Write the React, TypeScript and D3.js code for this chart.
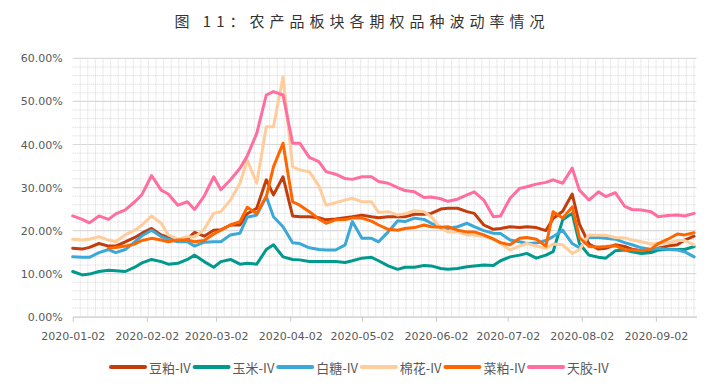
import { useEffect, useRef } from "react"
import * as d3 from "d3"

// sample dates (every ~3.7 days)
const dates = [
  "2020-01-02", "2020-01-06", "2020-01-09", "2020-01-13", "2020-01-17", "2020-01-20", "2020-01-24", "2020-01-28", "2020-01-31", "2020-02-04",
  "2020-02-08", "2020-02-11", "2020-02-15", "2020-02-19", "2020-02-22", "2020-02-26", "2020-03-01", "2020-03-04", "2020-03-08", "2020-03-12",
  "2020-03-15", "2020-03-19", "2020-03-23", "2020-03-26", "2020-03-30", "2020-04-03", "2020-04-06", "2020-04-10", "2020-04-14", "2020-04-17",
  "2020-04-21", "2020-04-25", "2020-04-28", "2020-05-02", "2020-05-06", "2020-05-09", "2020-05-13", "2020-05-17", "2020-05-20", "2020-05-24",
  "2020-05-28", "2020-05-31", "2020-06-04", "2020-06-07", "2020-06-11", "2020-06-15", "2020-06-18", "2020-06-22", "2020-06-26", "2020-06-29",
  "2020-07-03", "2020-07-07", "2020-07-10", "2020-07-14", "2020-07-18", "2020-07-21", "2020-07-25", "2020-07-29", "2020-08-01", "2020-08-05",
  "2020-08-09", "2020-08-12", "2020-08-16", "2020-08-20", "2020-08-23", "2020-08-27", "2020-08-31", "2020-09-03", "2020-09-07", "2020-09-11",
  "2020-09-14", "2020-09-18",
]

// implied vol, %
const soybeanMeal = [
  15.9, 15.7, 16.1, 17.0, 16.4, 16.4, 17.4, 18.4, 19.4, 20.5,
  19.0, 18.4, 17.8, 18.1, 19.6, 18.7, 20.1, 20.2, 21.3, 21.3,
  23.9, 25.2, 31.8, 28.3, 32.5, 23.4, 23.2, 23.2, 23.0, 22.5,
  22.7, 23.0, 23.2, 23.6, 23.2, 23.0, 23.2, 23.2, 23.2, 23.8,
  23.8, 24.0, 25.0, 25.2, 25.2, 24.4, 24.0, 21.3, 20.3, 20.5,
  20.9, 20.7, 20.9, 20.7, 20.0, 22.8, 24.5, 28.5, 21.5, 16.9,
  15.7, 15.9, 16.7, 16.3, 15.7, 15.3, 14.9, 15.9, 16.4, 16.7,
  17.8, 18.7,
]
const corn = [
  10.5, 9.7, 9.9, 10.5, 10.8, 10.7, 10.5, 11.5, 12.5, 13.3,
  12.8, 12.2, 12.4, 13.3, 14.3, 12.8, 11.5, 12.8, 13.3, 12.2,
  12.4, 12.2, 15.6, 16.7, 13.9, 13.3, 13.2, 12.8, 12.8, 12.8,
  12.8, 12.6, 13.0, 13.6, 13.8, 13.0, 11.8, 11.0, 11.5, 11.5,
  11.9, 11.8, 11.2, 11.0, 11.2, 11.6, 11.8, 12.0, 11.9, 13.0,
  13.9, 14.3, 14.7, 13.6, 14.3, 15.1, 22.5, 24.0, 17.0, 14.3,
  13.8, 13.6, 15.3, 15.5, 15.1, 14.7, 14.9, 15.5, 15.6, 15.6,
  15.6, 16.3,
]
const sugar = [
  13.9, 13.8, 13.8, 14.9, 15.6, 14.9, 15.6, 17.4, 18.8, 20.1,
  18.6, 18.0, 17.4, 17.4, 16.4, 17.3, 17.4, 17.4, 19.0, 19.4,
  23.1, 23.6, 27.9, 23.2, 20.9, 17.2, 17.0, 16.0, 15.6, 15.5,
  15.5, 16.7, 22.1, 18.2, 18.2, 17.4, 19.7, 22.3, 22.1, 22.9,
  22.6, 21.7, 20.8, 20.5, 20.9, 21.7, 20.9, 20.0, 19.4, 19.3,
  17.8, 17.4, 17.0, 17.1, 17.7, 18.6, 20.1, 17.0, 16.0, 18.4,
  18.4, 18.2, 18.0, 17.2, 16.7, 16.0, 15.6, 15.9, 15.6, 15.5,
  15.1, 13.9,
]
const cotton = [
  18.0, 17.8, 18.0, 18.6, 17.8, 17.4, 19.0, 20.1, 21.3, 23.4,
  21.7, 19.0, 18.0, 18.6, 18.5, 20.3, 24.0, 24.4, 27.1, 31.0,
  36.4, 31.0, 44.1, 44.1, 55.7, 34.8, 34.1, 33.7, 30.4, 25.9,
  26.5, 27.1, 27.5, 26.7, 26.7, 24.2, 24.4, 23.6, 23.9, 24.6,
  24.4, 23.2, 20.5, 19.7, 19.7, 19.0, 19.0, 18.6, 18.2, 17.0,
  15.5, 16.4, 17.0, 16.4, 15.9, 16.9, 16.7, 14.7, 15.5, 19.0,
  18.9, 18.9, 18.4, 18.3, 17.8, 17.4, 16.9, 17.0, 17.1, 17.7,
  17.7, 16.7,
]
const rapeseedMeal = [
  null, null, null, null, 15.9, 16.1, 16.4, 16.9, 17.7, 18.2,
  17.8, 17.4, 17.8, 17.8, 17.4, 17.7, 19.2, 20.1, 21.3, 22.1,
  25.4, 24.0, 27.9, 34.8, 40.3, 26.7, 25.9, 24.4, 22.7, 21.7,
  22.5, 22.6, 22.9, 22.9, 22.2, 21.3, 20.3, 20.1, 20.5, 20.7,
  21.3, 20.9, 20.8, 20.9, 20.1, 19.7, 19.7, 19.0, 18.0, 17.2,
  16.7, 18.2, 18.4, 18.0, 16.4, 24.4, 22.9, 25.5, 18.4, 16.3,
  16.2, 16.3, 16.5, 15.5, 15.5, 15.3, 15.7, 17.0, 18.0, 19.2,
  19.0, 19.5,
]
const rubber = [
  23.4, 22.6, 21.8, 23.4, 22.6, 23.9, 24.8, 26.7, 28.4, 32.8,
  29.4, 28.5, 25.9, 26.7, 24.9, 28.0, 32.5, 29.5, 31.8, 34.5,
  37.3, 42.6, 51.5, 52.3, 51.5, 40.3, 40.3, 37.0, 36.0, 33.7,
  33.1, 32.1, 31.9, 32.5, 32.5, 31.4, 31.0, 30.0, 29.3, 29.0,
  27.7, 27.8, 27.4, 26.8, 27.3, 28.3, 29.0, 27.1, 23.2, 23.4,
  27.5, 29.8, 30.2, 30.8, 31.2, 31.8, 31.0, 34.5, 29.4, 27.1,
  29.0, 27.9, 28.8, 25.6, 24.9, 24.8, 24.4, 23.2, 23.5, 23.6,
  23.4, 24.0,
]

const seriesNames = ["豆粕-IV", "玉米-IV", "白糖-IV", "棉花-IV", "菜粕-IV", "天胶-IV"]
const seriesColors = ["#C33C0C", "#00998C", "#3AA8D8", "#FFCC9C", "#FF6600", "#FF6E9E"]
const seriesValues = [soybeanMeal, corn, sugar, cotton, rapeseedMeal, rubber]

const xTickLabels = [
  "2020-01-02", "2020-02-02", "2020-03-02", "2020-04-02", "2020-05-02",
  "2020-06-02", "2020-07-02", "2020-08-02", "2020-09-02",
]
const yTicks = [0, 10, 20, 30, 40, 50, 60]

const title = "图 11：农产品板块各期权品种波动率情况"

export default function App() {
  const svgRef = useRef<SVGSVGElement>(null)
  const width = 726
  const height = 388

  useEffect(() => {
    if (!svgRef.current) return
    const svg = d3.select(svgRef.current)
    svg.selectAll("*").remove()

    const margin = { top: 58.4, right: 29.5, bottom: 71.3, left: 72.7 }
    const plotRight = width - margin.right
    const plotBottom = height - margin.bottom
    const labelFont = "'DejaVu Sans', Verdana, sans-serif"
    const cjkFont = "'Noto Sans CJK SC', 'Noto Sans', sans-serif"

    const parse = d3.utcParse("%Y-%m-%d")
    const start = parse("2020-01-02") as Date
    const end = parse("2020-09-19") as Date

    const xScale = d3.scaleUtc().domain([start, end]).range([margin.left, plotRight])
    const yScale = d3.scaleLinear().domain([0, 60]).range([plotBottom, margin.top])

    // title
    svg.append("text")
      .attr("x", 362)
      .attr("y", 27)
      .attr("text-anchor", "middle")
      .attr("font-family", cjkFont)
      .attr("font-size", 15)
      .attr("letter-spacing", 5)
      .attr("fill", "#333")
      .text(title)

    // minor gridlines (dotted)
    const grid = svg.append("g")
    const minorX = d3.range(+start + 3.17 * 864e5, +end, 3.17 * 864e5)
    grid.selectAll("line.vx").data(minorX).enter()
      .append("line")
      .attr("x1", d => xScale(new Date(d)))
      .attr("x2", d => xScale(new Date(d)))
      .attr("y1", margin.top)
      .attr("y2", plotBottom)
      .attr("stroke", "#d6d6d6")
      .attr("stroke-dasharray", "1 1")
    const minorY = d3.range(2, 60, 2).filter(v => v % 10 !== 0)
    grid.selectAll("line.hy").data(minorY).enter()
      .append("line")
      .attr("x1", margin.left)
      .attr("x2", plotRight)
      .attr("y1", d => yScale(d))
      .attr("y2", d => yScale(d))
      .attr("stroke", "#d6d6d6")
      .attr("stroke-dasharray", "1 1")

    // major horizontal gridlines
    grid.selectAll("line.major").data(yTicks.filter(v => v > 0)).enter()
      .append("line")
      .attr("x1", margin.left)
      .attr("x2", plotRight)
      .attr("y1", d => yScale(d))
      .attr("y2", d => yScale(d))
      .attr("stroke", "#d9d9d9")
      .attr("stroke-width", 1.2)

    // x axis
    const xAxis = svg.append("g")
      .attr("transform", `translate(0, ${plotBottom})`)
      .call(d3.axisBottom(xScale)
        .tickValues(xTickLabels.map(s => parse(s) as Date))
        .tickFormat(d => d3.utcFormat("%Y-%m-%d")(d as Date))
        .tickSize(5)
        .tickSizeOuter(0)
        .tickPadding(11))
    xAxis.select(".domain").attr("stroke", "#c8c8c8").attr("stroke-width", 1.2)
    xAxis.selectAll(".tick line").attr("stroke", "#c8c8c8")
    xAxis.selectAll("text")
      .attr("font-family", labelFont)
      .attr("font-size", 11)
      .attr("fill", "#595959")

    // y axis
    const yAxis = svg.append("g")
      .attr("transform", `translate(${margin.left}, 0)`)
      .call(d3.axisLeft(yScale)
        .tickValues(yTicks)
        .tickFormat(d => `${(d as number).toFixed(2)}%`)
        .tickSize(0)
        .tickPadding(10))
    yAxis.select(".domain").remove()
    yAxis.selectAll("text")
      .attr("font-family", labelFont)
      .attr("font-size", 11)
      .attr("fill", "#595959")

    // series lines
    const line = d3.line<number | null>()
      .defined(v => v != null)
      .x((_, i) => xScale(parse(dates[i]) as Date))
      .y(v => yScale(v as number))

    seriesValues.forEach((values, i) => {
      svg.append("path")
        .datum(values)
        .attr("d", line)
        .attr("fill", "none")
        .attr("stroke", seriesColors[i])
        .attr("stroke-width", 3)
        .attr("stroke-linejoin", "round")
        .attr("stroke-linecap", "round")
    })

    // legend
    const legendY = 367
    const legend = svg.append("g")
    seriesNames.forEach((name, i) => {
      const x0 = 111 + 83.6 * i
      legend.append("line")
        .attr("x1", x0)
        .attr("x2", x0 + 34)
        .attr("y1", legendY)
        .attr("y2", legendY)
        .attr("stroke", seriesColors[i])
        .attr("stroke-width", 4)
        .attr("stroke-linecap", "round")
      legend.append("text")
        .attr("x", x0 + 38)
        .attr("y", legendY)
        .attr("dominant-baseline", "central")
        .attr("font-family", cjkFont)
        .attr("font-size", 13)
        .attr("fill", "#595959")
        .text(name)
    })
  }, [])

  return (
    <div style={{ position: "absolute", left: 0, top: 0 }}>
      <svg ref={svgRef} width={width} height={height} style={{ display: "block", background: "#fff" }}></svg>
    </div>
  )
}
